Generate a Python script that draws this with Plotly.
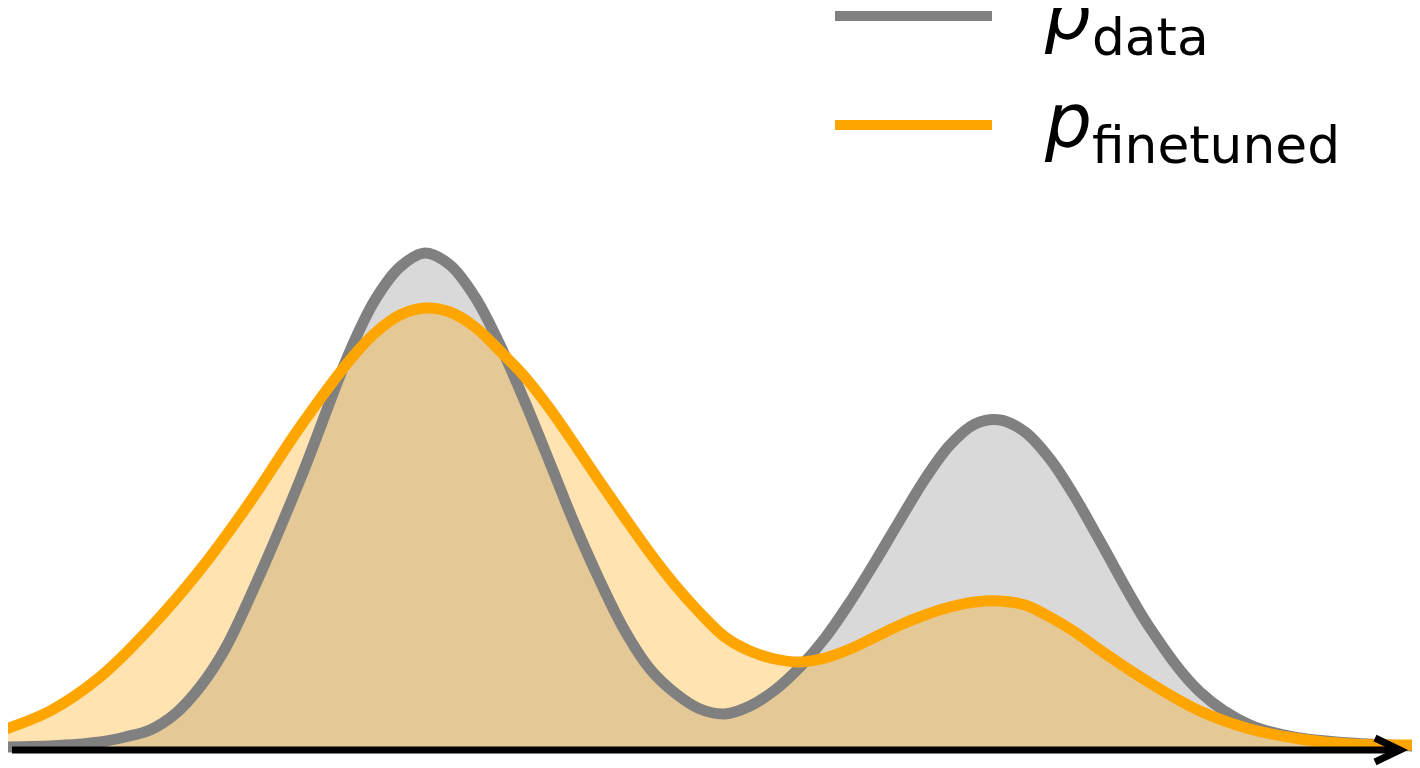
import plotly.graph_objects as go

# curve samples (x and density in arbitrary units)
gray_x = [0.0, 0.5, 1.0, 1.25, 1.5, 1.75, 2.0, 2.25, 2.5, 3.0, 3.5, 3.75, 4.0, 4.25, 4.5, 4.75,
          5.0, 5.25, 5.5, 5.75, 6.0, 6.25, 6.5, 6.75, 7.0, 7.25, 7.5, 7.75, 8.0, 8.25, 8.5, 8.75,
          9.0, 9.25, 9.5, 9.75, 10.0, 10.25, 10.5, 10.75, 11.0, 11.5, 12.0, 12.5, 13.0, 13.5, 14.15]
gray_y = [0.0, 0.01, 0.05, 0.10, 0.17, 0.33, 0.60, 0.98, 1.50, 2.67, 3.96, 4.47, 4.80, 4.94, 4.82,
          4.50, 4.02, 3.45, 2.84, 2.22, 1.66, 1.16, 0.78, 0.54, 0.38, 0.33, 0.41, 0.57, 0.80, 1.09,
          1.45, 1.85, 2.27, 2.68, 3.02, 3.23, 3.27, 3.15, 2.88, 2.50, 2.06, 1.19, 0.55, 0.22, 0.09,
          0.04, 0.01]

orange_x = [0.0, 0.5, 1.0, 1.5, 2.0, 2.5, 3.0, 3.5, 3.75, 4.0, 4.25, 4.5, 4.75, 5.0, 5.25, 5.5,
            5.75, 6.0, 6.25, 6.5, 6.75, 7.0, 7.25, 7.5, 7.75, 8.0, 8.25, 8.5, 8.75, 9.0, 9.25, 9.5,
            9.75, 10.0, 10.25, 10.5, 10.75, 11.0, 11.5, 12.0, 12.5, 13.0, 13.5, 14.15]
orange_y = [0.16, 0.36, 0.70, 1.19, 1.77, 2.45, 3.20, 3.87, 4.14, 4.32, 4.39, 4.35, 4.20, 3.96,
            3.70, 3.38, 3.02, 2.65, 2.29, 1.94, 1.62, 1.34, 1.10, 0.96, 0.88, 0.85, 0.89, 0.98,
            1.10, 1.22, 1.32, 1.40, 1.45, 1.46, 1.42, 1.30, 1.15, 0.97, 0.64, 0.36, 0.18, 0.08,
            0.03, 0.02]

labels = ["<i>p</i><sub>data</sub>", "<i>p</i><sub>finetuned</sub>"]
colors = ["#808080", "#FFA500"]
fills = ["rgba(128,128,128,0.3)", "rgba(255,165,0,0.3)"]

# page body adds an 8px margin, so the figure is 8px smaller and ranges start there
W, H = 1412, 760
OFF = 8

fig = go.Figure()

# fills first, lines on top
for xs, ys, fc in [(gray_x, gray_y, fills[0]), (orange_x, orange_y, fills[1])]:
    fig.add_trace(go.Scatter(x=xs, y=ys, mode="lines", fill="tozeroy", fillcolor=fc,
                             line=dict(width=0, shape="spline", smoothing=1),
                             showlegend=False, hoverinfo="skip"))
for xs, ys, c in [(gray_x, gray_y, colors[0]), (orange_x, orange_y, colors[1])]:
    fig.add_trace(go.Scatter(x=xs, y=ys, mode="lines",
                             line=dict(width=11, color=c, shape="spline", smoothing=1),
                             showlegend=False))

# x axis arrow
fig.add_shape(type="line", x0=0.12, x1=13.98, y0=-0.03, y1=-0.03, xref="x", yref="y",
              line=dict(color="black", width=7))
fig.add_shape(type="path", path="M 13.75,0.09 L 14.0,-0.03 L 13.75,-0.15", xref="x", yref="y",
              line=dict(color="black", width=7))

# hand-made legend
for i, (lab, c) in enumerate(zip(labels, colors)):
    ypx = [16, 125][i]
    yp = 1 - (ypx - OFF) / H
    fig.add_shape(type="line", xref="paper", yref="paper",
                  x0=(835 - OFF) / W, x1=(992 - OFF) / W, y0=yp, y1=yp,
                  line=dict(color=c, width=10))
    fig.add_annotation(x=(1042 - OFF) / W, y=1 - (ypx + 2 - OFF) / H, xref="paper", yref="paper",
                       text=lab, showarrow=False, xanchor="left", yanchor="middle",
                       font=dict(family="DejaVu Sans", size=74, color="black"))

fig.update_layout(width=W, height=H, margin=dict(l=0, r=0, t=0, b=0),
                  plot_bgcolor="white", paper_bgcolor="white")
fig.update_xaxes(range=[0.08, 14.2], visible=False)
fig.update_yaxes(range=[-0.21, 7.39], visible=False)

fig.write_html("out.html")
